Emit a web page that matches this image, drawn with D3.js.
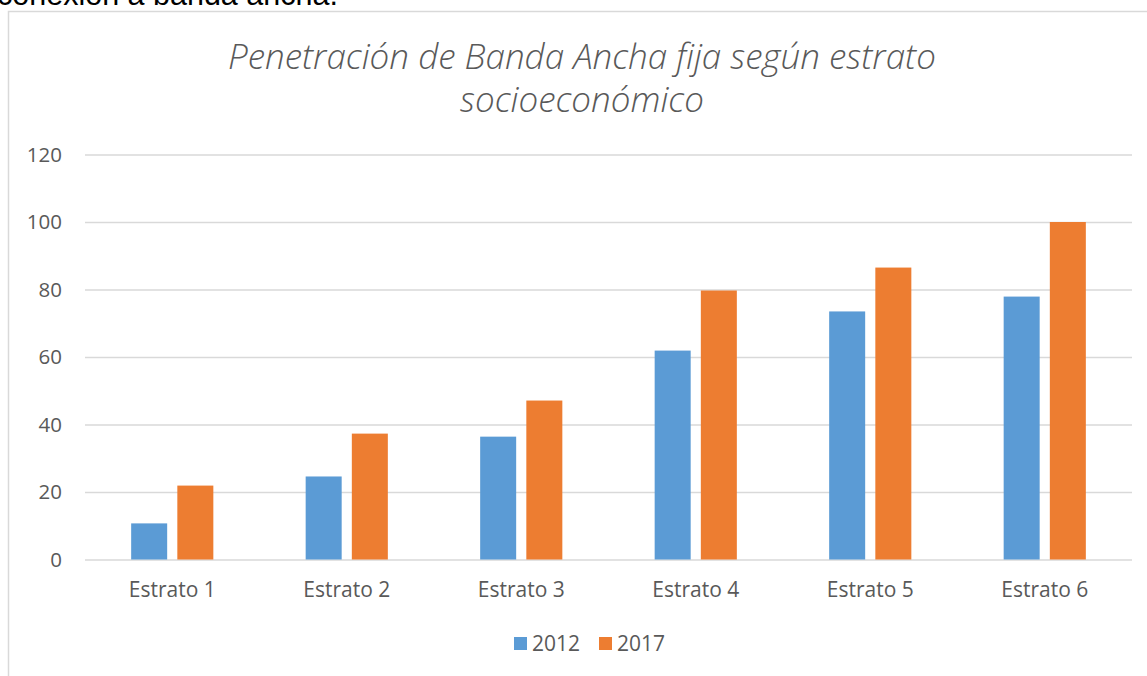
<!DOCTYPE html>
<html>
<head>
<meta charset="utf-8">
<script src="https://cdn.jsdelivr.net/npm/d3@7"></script>
<style>
  html, body { margin: 0; padding: 0; background: #fff; }
  svg { display: block; }
</style>
</head>
<body>
<svg id="chart" width="1147" height="676"></svg>
<script>
const categories = ["Estrato 1", "Estrato 2", "Estrato 3", "Estrato 4", "Estrato 5", "Estrato 6"];
const seriesNames = ["2012", "2017"];
const values2012 = [10.7, 24.6, 36.4, 61.9, 73.5, 77.9];
const values2017 = [21.9, 37.3, 47.1, 79.7, 86.5, 100];
const yTicks = [0, 20, 40, 60, 80, 100, 120];
const titleLines = ["Penetración de Banda Ancha fija según estrato", "socioeconómico"];
const colors = ["#5B9BD5", "#ED7D31"];

const svg = d3.select("#chart");
const font = "'Open Sans', 'DejaVu Sans', sans-serif";
const textColor = "#595959";

// text fragment above chart (cut off in the reference)
svg.append("text")
  .attr("x", -3).attr("y", 5)
  .attr("font-family", "'Liberation Sans', Arial, sans-serif")
  .attr("font-size", 30.5)
  .attr("fill", "#000")
  .text("conexión a banda ancha.");

// chart border
svg.append("rect")
  .attr("x", 8.5).attr("y", 11.5)
  .attr("width", 1300).attr("height", 800)
  .attr("fill", "none").attr("stroke", "#d9d9d9").attr("stroke-width", 1.5);

const plot = { left: 85, right: 1132, top: 154.5, bottom: 559.5 };

const x = d3.scaleBand().domain(categories).range([plot.left, plot.right]);
const xSub = d3.scaleBand().domain(seriesNames).range([0, x.bandwidth()]).paddingInner(0.22).paddingOuter(1.0);
const y = d3.scaleLinear().domain([0, 120]).range([plot.bottom, plot.top]);

// gridlines + y labels
const yAxis = d3.axisLeft(y).tickValues(yTicks).tickSize(-(plot.right - plot.left)).tickPadding(23).tickFormat(d3.format("d"));
const gy = svg.append("g").attr("transform", `translate(${plot.left},0)`).call(yAxis);
gy.select(".domain").remove();
gy.selectAll(".tick line").attr("stroke", "#d9d9d9").attr("stroke-width", 1.3);
gy.selectAll(".tick text").attr("font-family", font).attr("font-size", 20.5).attr("fill", textColor);

// bars
const data = categories.map((c, i) => ({ cat: c, vals: [values2012[i], values2017[i]] }));
const groups = svg.append("g").selectAll("g").data(data).join("g")
  .attr("transform", d => `translate(${x(d.cat)},0)`);
groups.selectAll("rect").data(d => d.vals.map((v, j) => ({ key: seriesNames[j], v, j })))
  .join("rect")
  .attr("x", d => xSub(d.key))
  .attr("width", xSub.bandwidth())
  .attr("y", d => y(d.v))
  .attr("height", d => y(0) - y(d.v))
  .attr("fill", d => colors[d.j]);

// x axis labels
const xAxis = d3.axisBottom(x).tickSize(0).tickPadding(23);
const gx = svg.append("g").attr("transform", `translate(0,${plot.bottom})`).call(xAxis);
gx.select(".domain").remove();
gx.selectAll(".tick text").attr("font-family", font).attr("font-size", 21).attr("fill", textColor);

// title
const title = svg.append("text")
  .attr("text-anchor", "middle")
  .attr("font-family", font).attr("font-style", "italic").attr("font-weight", 300)
  .attr("font-size", 35).attr("fill", textColor);
titleLines.forEach((t, i) => {
  title.append("tspan").attr("x", 582).attr("y", 69 + i * 43).text(t);
});

// legend
const legend = svg.append("g").attr("transform", "translate(514,637)");
const legendX = [0, 85];
seriesNames.forEach((s, i) => {
  const g = legend.append("g").attr("transform", `translate(${legendX[i]},0)`);
  g.append("rect").attr("width", 13).attr("height", 13).attr("fill", colors[i]);
  g.append("text").attr("x", 18).attr("y", 14)
    .attr("font-family", font).attr("font-size", 21).attr("fill", textColor).text(s);
});
</script>
</body>
</html>
